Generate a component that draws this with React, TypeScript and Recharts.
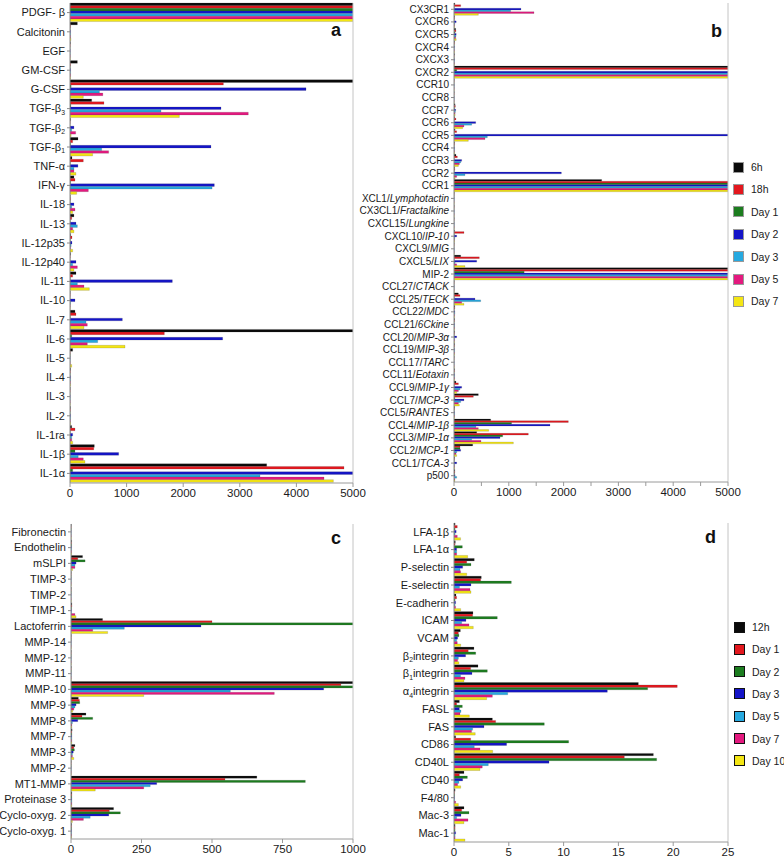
import React from 'react';
import { BarChart, Bar, XAxis, YAxis, ReferenceLine } from 'recharts';

// colours shared by all four panels (earliest time point first)
const seriesColors = ['#0a0a0a', '#e3171e', '#1c7d1f', '#1414c8', '#26a9e0', '#e4197f', '#f4e614'];
const legendTop = ['6h', '18h', 'Day 1', 'Day 2', 'Day 3', 'Day 5', 'Day 7'];
const legendBottom = ['12h', 'Day 1', 'Day 2', 'Day 3', 'Day 5', 'Day 7', 'Day 10'];

// ---- panel a: growth factors / cytokines ----
const aCats = ['PDGF- β', 'Calcitonin', 'EGF', 'GM-CSF', 'G-CSF', 'TGF-β_3', 'TGF-β_2', 'TGF-β_1', 'TNF-α', 'IFN-γ', 'IL-18', 'IL-13', 'IL-12p35', 'IL-12p40', 'IL-11', 'IL-10', 'IL-7', 'IL-6', 'IL-5', 'IL-4', 'IL-3', 'IL-2', 'IL-1ra', 'IL-1β', 'IL-1α'];
const a6h = [5000, 130, 8, 130, 5000, 383, 10, 141, 35, 70, 5, 70, 10, 10, 106, 5, 88, 5000, 47, 10, 5, 8, 30, 430, 3475];
const a18h = [5000, 10, 5, 10, 2710, 600, 5, 47, 235, 88, 10, 30, 35, 5, 47, 5, 106, 1667, 5, 8, 5, 8, 88, 420, 4841];
const aDay1 = [5000, 5, 3, 5, 20, 15, 2, 10, 5, 10, 5, 5, 5, 2, 5, 2, 5, 30, 5, 5, 3, 5, 5, 88, 47];
const aDay2 = [5000, 10, 5, 10, 4170, 2668, 70, 2491, 140, 2550, 70, 106, 35, 106, 1808, 88, 925, 2697, 5, 10, 5, 10, 47, 860, 5000];
const aDay3 = [5000, 10, 5, 10, 520, 1608, 30, 560, 70, 2510, 30, 130, 20, 47, 130, 10, 283, 489, 5, 10, 5, 10, 30, 145, 3357];
const aDay5 = [5000, 10, 5, 10, 580, 3150, 100, 683, 70, 324, 88, 47, 10, 130, 247, 5, 306, 306, 5, 8, 5, 8, 30, 235, 4488];
const aDay7 = [5000, 15, 5, 8, 235, 1932, 20, 400, 105, 118, 47, 70, 47, 70, 342, 5, 247, 972, 30, 10, 5, 10, 47, 265, 4653];

// ---- panel b: chemokines / receptors ----
const bCats = ['CX3CR1', 'CXCR6', 'CXCR5', 'CXCR4', 'CXCX3', 'CXCR2', 'CCR10', 'CCR8', 'CCR7', 'CCR6', 'CCR5', 'CCR4', 'CCR3', 'CCR2', 'CCR1', 'XCL1/Lymphotactin', 'CX3CL1/Fractalkine', 'CXCL15/Lungkine', 'CXCL10/IP-10', 'CXCL9/MIG', 'CXCL5/LIX', 'MIP-2', 'CCL27/CTACK', 'CCL25/TECK', 'CCL22/MDC', 'CCL21/6Ckine', 'CCL20/MIP-3α', 'CCL19/MIP-3β', 'CCL17/TARC', 'CCL11/Eotaxin', 'CCL9/MIP-1γ', 'CCL7/MCP-3', 'CCL5/RANTES', 'CCL4/MIP-1β', 'CCL3/MIP-1α', 'CCL2/MCP-1', 'CCL1/TCA-3', 'p500'];
const b6h = [18, 10, 30, 10, 10, 5000, 5, 5, 20, 10, 20, 10, 37, 10, 2695, 5, 5, 5, 10, 5, 122, 5000, 5, 80, 15, 10, 10, 10, 5, 10, 37, 444, 10, 669, 414, 341, 10, 15];
const b18h = [122, 10, 35, 10, 5, 5000, 5, 5, 25, 37, 49, 10, 61, 15, 5000, 5, 5, 5, 183, 5, 462, 5000, 5, 110, 15, 10, 10, 10, 5, 10, 80, 353, 10, 2086, 1356, 110, 10, 15];
const bDay1 = [5, 5, 20, 5, 5, 50, 3, 3, 10, 5, 5, 5, 5, 5, 5000, 3, 3, 3, 5, 3, 5, 1280, 3, 5, 5, 5, 5, 5, 3, 5, 5, 15, 5, 1050, 888, 110, 5, 10];
const bDay2 = [1222, 40, 40, 10, 10, 5000, 5, 5, 30, 396, 5000, 10, 140, 1959, 5000, 5, 5, 5, 49, 5, 414, 5000, 5, 383, 15, 10, 49, 10, 5, 10, 140, 183, 10, 1752, 840, 122, 49, 20];
const bDay3 = [1034, 15, 35, 8, 8, 5000, 5, 5, 25, 323, 608, 10, 122, 200, 5000, 5, 5, 5, 15, 5, 20, 5000, 5, 487, 15, 10, 10, 10, 5, 10, 110, 122, 10, 400, 323, 49, 10, 49];
const bDay5 = [1460, 10, 30, 8, 8, 5000, 5, 5, 20, 183, 566, 10, 98, 49, 5000, 5, 5, 5, 10, 5, 49, 5000, 5, 140, 10, 10, 10, 10, 5, 10, 80, 80, 10, 444, 493, 37, 10, 15];
const bDay7 = [444, 10, 40, 8, 8, 5000, 5, 5, 20, 158, 261, 10, 80, 20, 5000, 5, 5, 5, 10, 5, 200, 5000, 5, 183, 10, 10, 10, 10, 5, 10, 49, 98, 10, 633, 1083, 49, 10, 15];

// ---- panel c: matrix / proteases ----
const cCats = ['Fibronectin', 'Endothelin', 'mSLPI', 'TIMP-3', 'TIMP-2', 'TIMP-1', 'Lactoferrin', 'MMP-14', 'MMP-12', 'MMP-11', 'MMP-10', 'MMP-9', 'MMP-8', 'MMP-7', 'MMP-3', 'MMP-2', 'MT1-MMP', 'Proteinase 3', 'Cyclo-oxyg. 2', 'Cyclo-oxyg. 1'];
const c12h = [1, 2, 41, 1, 1, 3, 112, 1, 1, 1, 1000, 26, 53, 4, 14, 1, 659, 3, 151, 2];
const cDay1 = [1, 2, 24, 1, 1, 3, 500, 1, 1, 1, 957, 30, 39, 3, 10, 1, 546, 3, 136, 2];
const cDay2 = [1, 2, 50, 1, 1, 2, 1000, 1, 1, 1, 1000, 31, 77, 3, 12, 1, 831, 3, 175, 2];
const cDay3 = [1, 2, 18, 1, 1, 2, 461, 1, 1, 1, 896, 18, 24, 3, 8, 1, 304, 3, 134, 2];
const cDay5 = [1, 2, 14, 1, 1, 2, 189, 1, 1, 1, 565, 14, 5, 3, 5, 1, 281, 3, 68, 2];
const cDay7 = [1, 2, 14, 1, 1, 14, 77, 1, 1, 1, 721, 10, 3, 3, 5, 1, 258, 3, 44, 2];
const cDay10 = [1, 2, 6, 1, 1, 18, 130, 1, 1, 1, 258, 6, 3, 3, 10, 1, 86, 3, 5, 2];

// ---- panel d: adhesion molecules ----
const dCats = ['LFA-1β', 'LFA-1α', 'P-selectin', 'E-selectin', 'E-cadherin', 'ICAM', 'VCAM', 'β_2integrin', 'β_1integrin', 'α_4integrin', 'FASL', 'FAS', 'CD86', 'CD40L', 'CD40', 'F4/80', 'Mac-3', 'Mac-1'];
const d12h = [0.1, 0.12, 1.85, 2.49, 0.18, 1.73, 0.58, 1.82, 2.19, 16.82, 0.49, 3.5, 0.15, 18.19, 0.91, 0.1, 0.91, 0.1];
const dDay1 = [0.3, 0.1, 1.16, 2.43, 0.24, 1.7, 0.4, 1.3, 1.52, 20.37, 0.24, 3.8, 1.52, 15.54, 0.49, 0.05, 0.7, 0.1];
const dDay2 = [0.1, 0.76, 1.55, 5.23, 0.1, 3.95, 0.45, 1.98, 3.04, 17.67, 0.76, 8.24, 10.46, 18.49, 1.22, 0.05, 1.37, 0.1];
const dDay3 = [0.2, 0.24, 0.79, 1.55, 0.15, 1.09, 0.33, 1.06, 1.64, 13.99, 0.49, 2.74, 4.8, 8.67, 0.79, 0.05, 0.64, 0.15];
const dDay5 = [0.1, 0.24, 0.55, 0.5, 0.1, 0.7, 0.24, 0.4, 0.6, 4.9, 0.64, 1.7, 1.85, 3.13, 0.45, 0.05, 0.24, 0.1];
const dDay7 = [0.3, 0.24, 0.6, 1.46, 0.15, 1.37, 0.3, 0.33, 1.0, 3.5, 0.55, 1.6, 2.37, 2.58, 0.33, 0.15, 1.28, 0.1];
const dDay10 = [0.6, 1.25, 1.16, 1.55, 0.61, 1.76, 0.61, 0.45, 0.91, 2.98, 1.4, 1.94, 3.53, 2.37, 0.61, 0.4, 0.91, 1.0];

const aTicks = [0, 1000, 2000, 3000, 4000, 5000];
const bTicks = [0, 500, 1000, 1500, 2000, 2500, 3000, 3500, 4000, 4500, 5000];
const cTicks = [0, 250, 500, 750, 1000];
const dTicks = [0, 5, 10, 15, 20, 25];

const FONT = '"Liberation Sans", Arial, sans-serif';

function toRows(cats: string[], series: number[][]) {
  return cats.map((name, i) => {
    const row: Record<string, any> = { name };
    series.forEach((s, k) => (row['s' + k] = s[i]));
    return row;
  });
}

// "_x" -> subscript x, text after "/" -> italic
function renderParts(text: string, italic: boolean, fs: number, keyBase: string) {
  const out: any[] = [];
  let buf = '';
  let lift = 0;
  let key = 0;
  const flush = () => {
    if (!buf) return;
    out.push(
      <tspan key={keyBase + key++} dy={lift || undefined} fontStyle={italic ? 'italic' : undefined}>
        {buf}
      </tspan>
    );
    buf = '';
    lift = 0;
  };
  for (let i = 0; i < text.length; i++) {
    if (text[i] === '_' && i + 1 < text.length) {
      flush();
      out.push(<tspan key={keyBase + key++} dy={2.5} fontSize={fs * 0.62}>{text[i + 1]}</tspan>);
      lift = -2.5;
      i++;
    } else buf += text[i];
  }
  flush();
  return out;
}

function CatTick(props: any) {
  const { x, y, payload, fontSize } = props;
  const label: string = payload.value;
  const slash = label.indexOf('/');
  const split = slash >= 0 && label !== 'F4/80';
  const head = split ? label.slice(0, slash + 1) : label;
  const tail = split ? label.slice(slash + 1) : '';
  return (
    <text x={x} y={y} dy="0.35em" textAnchor="end" fontSize={fontSize} fill="#1a1a1a" fontFamily={FONT}>
      {renderParts(head, false, fontSize, 'h')}
      {tail ? renderParts(tail, true, fontSize, 't') : null}
    </text>
  );
}

function NumTick(props: any) {
  const { x, y, payload, major } = props;
  if (!major(payload.value)) return null;
  return (
    <text x={x} y={y} dy="0.71em" textAnchor="middle" fontSize={11.5} fill="#1a1a1a" fontFamily={FONT}>
      {payload.value}
    </text>
  );
}

interface PanelProps {
  cats: string[];
  series: number[][];
  max: number;
  ticks: number[];
  width: number;
  height: number;
  yWidth: number;
  xHeight: number;
  top: number;
  right: number;
  barSize: number;
  catFont: number;
}

function Panel(p: PanelProps) {
  const data = toRows(p.cats, p.series);
  const major = (v: number) => p.ticks.length <= 7 || v % 1000 === 0;
  return (
    <BarChart
      width={p.width}
      height={p.height}
      data={data}
      layout="vertical"
      barSize={p.barSize}
      barGap={0}
      margin={{ top: p.top, right: p.right, left: 0, bottom: 0 }}
    >
      <XAxis
        type="number"
        domain={[0, p.max]}
        allowDataOverflow
        ticks={p.ticks}
        interval={0}
        height={p.xHeight}
        stroke="#9a9a9a"
        tickSize={4}
        tick={<NumTick major={major} />}
      />
      <XAxis xAxisId="frame" orientation="top" type="number" domain={[0, p.max]} height={0} tick={false} tickLine={false} stroke="#c4c4c4" />
      <YAxis
        type="category"
        dataKey="name"
        width={p.yWidth}
        interval={0}
        stroke="#8a8a8a"
        tickSize={3}
        tick={<CatTick fontSize={p.catFont} />}
      />
      <ReferenceLine x={p.max} stroke="#c4c4c4" />
      {p.series.map((_, k) => (
        <Bar
          key={k}
          dataKey={'s' + k}
          fill={seriesColors[k]}
          stroke="rgba(60,60,60,0.45)"
          strokeWidth={0.4}
          isAnimationActive={false}
        />
      ))}
    </BarChart>
  );
}

function SideLegend({ labels, left, top, step, boxBorder }: { labels: string[]; left: number; top: number; step: number; boxBorder: string }) {
  return (
    <div style={{ position: 'absolute', left, top, fontFamily: FONT, fontSize: 10.5, color: '#1a1a1a' }}>
      {labels.map((l, i) => (
        <div key={l} style={{ position: 'absolute', top: i * step, left: 0, display: 'flex', alignItems: 'center', whiteSpace: 'nowrap', height: 12 }}>
          <span style={{ display: 'inline-block', width: 9, height: 9, background: seriesColors[i], border: boxBorder, marginRight: 7 }} />
          <span>{l}</span>
        </div>
      ))}
    </div>
  );
}

const letterStyle: React.CSSProperties = { position: 'absolute', fontFamily: FONT, fontWeight: 'bold', fontSize: 18, color: '#111' };

export default function App() {
  return (
    <div style={{ position: 'absolute', left: 0, top: 0, width: 784, height: 859, background: '#fff', overflow: 'hidden' }}>
      <div style={{ position: 'absolute', left: 0, top: 0 }}>
        <Panel cats={aCats} series={[a6h, a18h, aDay1, aDay2, aDay3, aDay5, aDay7]} max={5000} ticks={aTicks}
          width={372} height={510} yWidth={70} xHeight={27} top={3} right={19} barSize={2.65} catFont={11} />
      </div>
      <div style={{ position: 'absolute', left: 0, top: 520 }}>
        <Panel cats={cCats} series={[c12h, cDay1, cDay2, cDay3, cDay5, cDay7, cDay10]} max={1000} ticks={cTicks}
          width={372} height={339} yWidth={71} xHeight={20} top={4} right={19} barSize={2.15} catFont={11} />
      </div>
      <div style={{ position: 'absolute', left: 350, top: 0 }}>
        <Panel cats={bCats} series={[b6h, b18h, bDay1, bDay2, bDay3, bDay5, bDay7]} max={5000} ticks={bTicks}
          width={434} height={510} yWidth={104} xHeight={28} top={3} right={56} barSize={1.75} catFont={10} />
      </div>
      <div style={{ position: 'absolute', left: 360, top: 520 }}>
        <Panel cats={dCats} series={[d12h, dDay1, dDay2, dDay3, dDay5, dDay7, dDay10]} max={25} ticks={dTicks}
          width={424} height={339} yWidth={94} xHeight={17} top={3} right={56} barSize={2.45} catFont={11} />
      </div>
      <SideLegend labels={legendTop} left={733} top={161} step={22.4} boxBorder="1px solid #999" />
      <SideLegend labels={legendBottom} left={734} top={621} step={22.3} boxBorder="1.5px solid #111" />
      <div style={{ ...letterStyle, left: 331, top: 20 }}>a</div>
      <div style={{ ...letterStyle, left: 711, top: 21 }}>b</div>
      <div style={{ ...letterStyle, left: 331, top: 528 }}>c</div>
      <div style={{ ...letterStyle, left: 705, top: 527 }}>d</div>
    </div>
  );
}
